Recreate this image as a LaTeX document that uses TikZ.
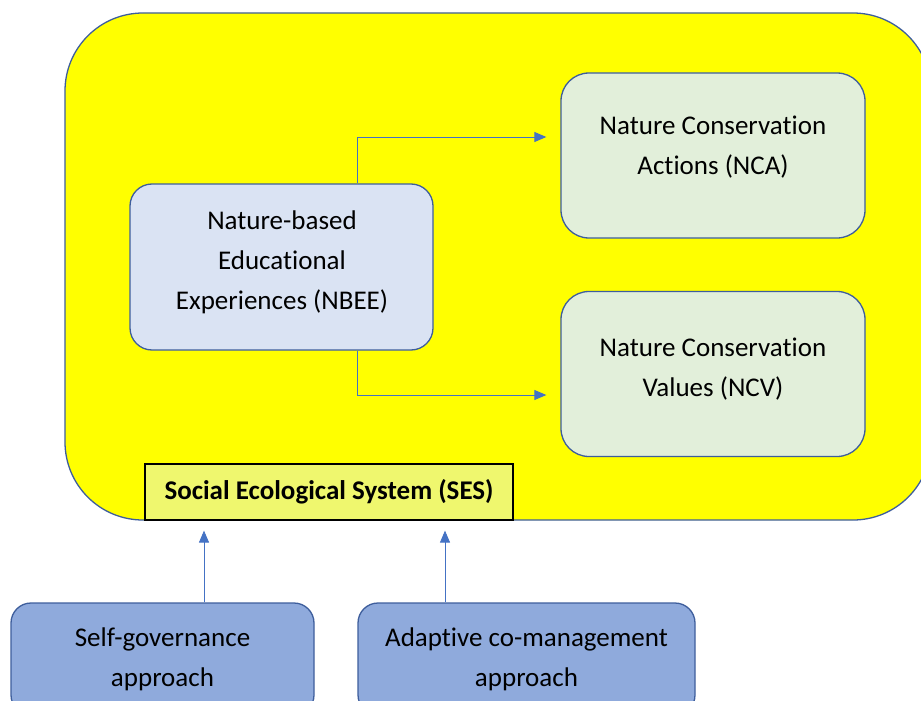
\documentclass[tikz,border=0pt]{standalone}
\usepackage{fontspec}
\setmainfont[Ligatures=NoCommon]{Carlito}
\usetikzlibrary{arrows.meta}
\definecolor{sysfill}{RGB}{255,255,0}
\definecolor{edgeblue}{RGB}{62,94,156}
\definecolor{nbeefill}{RGB}{218,227,243}
\definecolor{ncfill}{RGB}{226,239,218}
\definecolor{sesfill}{RGB}{239,247,110}
\definecolor{apfill}{RGB}{143,170,220}
\definecolor{flowblue}{RGB}{68,114,196}
\begin{document}
\begin{tikzpicture}[x=1pt,y=-1pt,
  boxbase/.style={draw=edgeblue,line width=1.3pt,inner sep=0pt},
  nbeebox/.style={boxbase,fill=nbeefill,rounded corners=22pt,minimum width=303pt,minimum height=166pt},
  ncbox/.style={boxbase,fill=ncfill,rounded corners=28pt,minimum width=304pt,minimum height=165pt},
  apbox/.style={boxbase,fill=apfill,rounded corners=20pt,minimum height=112pt},
  boxtext/.style={align=center,font=\fontsize{27}{40}\selectfont,inner sep=0pt,text=black},
  flow/.style={draw=flowblue,line width=0.9pt,-{Triangle[length=12pt,width=10pt]}}]
\useasboundingbox (0,0) rectangle (921,701);
\begin{scope}
\clip (0,0) rectangle (921,701);
% social ecological system area
\node[draw=edgeblue,line width=1.3pt,fill=sysfill,rounded corners=78pt,
  minimum width=866pt,minimum height=507pt,inner sep=0pt] (sys) at (498,266.5) {};
% inner boxes
\node[nbeebox] (nbee) at (281.5,267) {};
\node[boxtext] (nbeet) at (282,262) {Nature-based\\Educational\\Experiences (NBEE)};
\node[ncbox] (nca) at (713,155.5) {};
\node[boxtext] (ncat) at (713,147) {Nature Conservation\\Actions (NCA)};
\node[ncbox] (ncv) at (713,374) {};
\node[boxtext] (ncvt) at (713,369) {Nature Conservation\\Values (NCV)};
% label of the system
\node[draw=black,line width=1.2pt,fill=sesfill,minimum width=368pt,minimum height=56pt,
  inner sep=0pt,font=\fontsize{27}{30}\selectfont\bfseries] (ses) at (329,492) {Social Ecological System (SES)};
% approaches
\node[apbox,minimum width=303pt] (self) at (162.5,659) {};
\node[boxtext] (selft) at (162.5,659) {Self-governance\\approach};
\node[apbox,minimum width=337pt] (adapt) at (526.5,659) {};
\node[boxtext] (adaptt) at (526.5,659) {Adaptive co-management\\approach};
% connectors
\draw[flow,shorten >=14pt] ([xshift=75.5pt]nbee.north) |- ([yshift=18.5pt]nca.west);
\draw[flow,shorten >=14pt] ([xshift=75.5pt]nbee.south) |- ([yshift=-21pt]ncv.west);
\draw[flow,shorten >=10pt] ([xshift=41.5pt]self.north) -- ([xshift=41.5pt]self.north |- ses.south);
\draw[flow,shorten >=10pt] ([xshift=-81.5pt]adapt.north) -- ([xshift=-81.5pt]adapt.north |- ses.south);
\end{scope}
\end{tikzpicture}
\end{document}
